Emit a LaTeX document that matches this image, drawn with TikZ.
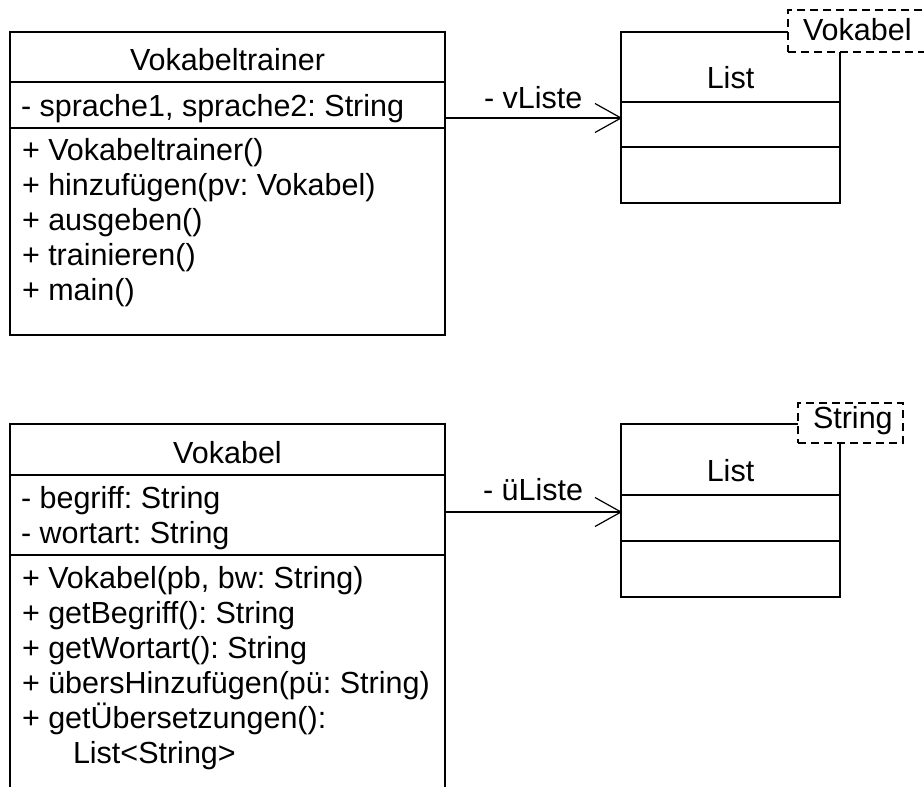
\documentclass[tikz,border=0pt]{standalone}
\usepackage{fontspec}
\setmainfont{Liberation Sans}
\frenchspacing
\begin{document}
\begin{tikzpicture}[x=1pt,y=-1pt,line width=1.2pt,
  classbox/.style={draw,inner sep=0pt,outer sep=0pt,anchor=north west},
  parambox/.style={draw,dashed,dash pattern=on 8pt off 5pt,fill=white,inner sep=0pt,outer sep=0pt,anchor=north west},
  txt/.style={inner sep=0pt,outer sep=0pt,font=\fontsize{30.5}{35}\selectfont}]
\clip (0,0) rectangle (924,787);
% ---------- Vokabeltrainer ----------
\node[classbox,minimum width=435pt,minimum height=303pt] (vt) at (10,32) {};
\draw (vt.west |- 0,82) -- (vt.east |- 0,82);
\draw (vt.west |- 0,128) -- (vt.east |- 0,128);
\node[txt,anchor=base] (vtname) at (227.5,70) {Vokabeltrainer};
\node[txt,anchor=base west] (vta1) at (21,116) {- sprache1, sprache2: String};
\node[txt,anchor=base west] (vtm1) at (22,160) {+ Vokabeltrainer()};
\node[txt,anchor=base west] (vtm2) at (22,195) {+ hinzufügen(pv: Vokabel)};
\node[txt,anchor=base west] (vtm3) at (22,230) {+ ausgeben()};
\node[txt,anchor=base west] (vtm4) at (22,265) {+ trainieren()};
\node[txt,anchor=base west] (vtm5) at (22,300) {+ main()};
% ---------- List<Vokabel> ----------
\node[classbox,minimum width=219pt,minimum height=171pt] (l1) at (621,32) {};
\draw (l1.west |- 0,102) -- (l1.east |- 0,102);
\draw (l1.west |- 0,147) -- (l1.east |- 0,147);
\node[txt,anchor=base] (l1name) at (730.5,88) {List};
\node[parambox,minimum width=150pt,minimum height=42pt] (p1) at (788,10) {};
\node[txt,anchor=base west] (p1t) at (803,40) {Vokabel};
% connector 1
\coordinate (s1) at (vt.east |- 0,118);
\coordinate (h1) at (l1.west |- 0,118);
\draw (s1) -- (h1);
\draw (h1) ++(-26,-14.5) -- (h1) -- ++(-26,14.5);
\node[txt,anchor=base west] (lab1) at (484,108) {- vListe};
% ---------- Vokabel ----------
\node[classbox,minimum width=435pt,minimum height=400pt] (vk) at (10,424) {};
\draw (vk.west |- 0,475) -- (vk.east |- 0,475);
\draw (vk.west |- 0,555) -- (vk.east |- 0,555);
\node[txt,anchor=base] (vkname) at (227.5,463) {Vokabel};
\node[txt,anchor=base west] (vka1) at (21,508) {- begriff: String};
\node[txt,anchor=base west] (vka2) at (21,543) {- wortart: String};
\node[txt,anchor=base west] (vkm1) at (22,588) {+ Vokabel(pb, bw: String)};
\node[txt,anchor=base west] (vkm2) at (22,623) {+ getBegriff(): String};
\node[txt,anchor=base west] (vkm3) at (22,658) {+ getWortart(): String};
\node[txt,anchor=base west] (vkm4) at (22,693) {+ übersHinzufügen(pü: String)};
\node[txt,anchor=base west] (vkm5) at (22,728) {+ getÜbersetzungen():};
\node[txt,anchor=base west] (vkm6) at (73,763) {List<String>};
% ---------- List<String> ----------
\node[classbox,minimum width=219pt,minimum height=173pt] (l2) at (621,424) {};
\draw (l2.west |- 0,495) -- (l2.east |- 0,495);
\draw (l2.west |- 0,541) -- (l2.east |- 0,541);
\node[txt,anchor=base] (l2name) at (730.5,481) {List};
\node[parambox,minimum width=105pt,minimum height=40pt] (p2) at (798,403) {};
\node[txt,anchor=base west] (p2t) at (813,428) {String};
% connector 2
\coordinate (s2) at (vk.east |- 0,512);
\coordinate (h2) at (l2.west |- 0,512);
\draw (s2) -- (h2);
\draw (h2) ++(-26,-14.5) -- (h2) -- ++(-26,14.5);
\node[txt,anchor=base west] (lab2) at (483,500) {- üListe};
\end{tikzpicture}
\end{document}
